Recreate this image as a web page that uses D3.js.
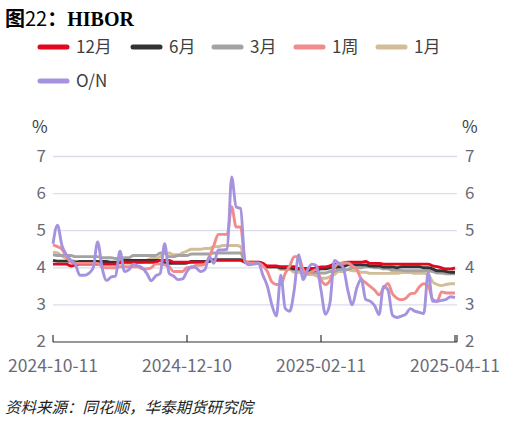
<!DOCTYPE html>
<html><head><meta charset="utf-8">
<script src="https://cdn.jsdelivr.net/npm/d3@7"></script>
<style>
html,body{margin:0;padding:0;background:#fff;}
svg{display:block;font-family:"Noto Sans CJK SC","Noto Sans",sans-serif;}
</style></head>
<body><svg id="c" width="519" height="426"></svg>
<script>
// categories: trading-day sample index 0..90, labelled ticks
const tickIdx = [0, 30, 60, 90];
const tickLabels = ["2024-10-11", "2024-12-10", "2025-02-11", "2025-04-11"];
const seriesNames = ["12月", "6月", "3月", "1周", "1月", "O/N"];
const colors = ["#e3071d", "#333333", "#a3a3a3", "#f28b8b", "#d2bd98", "#a593e0"];
const yTicks = [2, 3, 4, 5, 6, 7];

const m12 = [4.1,4.1,4.1,4.1,4.05,4.08,4.1,4.1,4.1,4.1,4.1,4.1,4.1,4.1,4.1,4.15,4.15,4.15,4.15,4.15,4.15,4.15,4.15,4.15,4.2,4.2,4.2,4.15,4.15,4.15,4.15,4.15,4.15,4.15,4.15,4.2,4.2,4.2,4.2,4.2,4.2,4.2,4.2,4.15,4.15,4.15,4.15,4.12,4.05,4.05,4.05,4.03,4.03,4.03,4.03,3.98,3.98,3.98,3.98,4.0,4.02,4.02,4.05,4.1,4.1,4.13,4.15,4.15,4.15,4.15,4.17,4.12,4.12,4.12,4.1,4.1,4.1,4.1,4.1,4.1,4.1,4.1,4.1,4.1,4.1,4.05,4.03,4.0,3.97,3.97,4.0];
const m6 = [4.2,4.18,4.18,4.18,4.18,4.15,4.17,4.17,4.17,4.17,4.17,4.17,4.17,4.15,4.15,4.15,4.2,4.2,4.2,4.2,4.2,4.2,4.2,4.2,4.2,4.12,4.12,4.12,4.12,4.12,4.13,4.17,4.17,4.17,4.17,4.17,4.22,4.22,4.22,4.22,4.22,4.22,4.22,4.15,4.14,4.14,4.14,4.1,4.03,4.03,4.03,4.0,4.0,4.0,3.97,3.97,3.97,3.92,3.92,3.94,3.97,3.97,4.0,4.0,4.03,4.03,4.08,4.08,4.08,4.08,4.08,4.05,4.05,4.05,4.02,4.02,4.02,4.0,4.03,4.03,4.03,4.03,4.03,4.0,4.0,3.97,3.92,3.92,3.9,3.88,3.88];
const m3 = [4.35,4.33,4.33,4.33,4.33,4.3,4.3,4.3,4.3,4.3,4.3,4.27,4.27,4.27,4.25,4.25,4.27,4.27,4.33,4.33,4.33,4.33,4.33,4.33,4.4,4.4,4.3,4.3,4.33,4.33,4.33,4.37,4.37,4.37,4.37,4.37,4.4,4.4,4.4,4.4,4.4,4.4,4.4,4.15,4.14,4.14,4.14,4.1,4.03,4.03,4.03,3.98,3.98,3.98,3.95,3.95,3.87,3.87,3.87,3.86,3.86,3.86,3.9,3.9,3.95,3.95,3.95,4.0,4.0,4.0,4.03,4.03,4.0,4.0,3.97,3.97,3.93,3.93,3.93,3.92,3.92,3.92,3.92,3.92,3.92,3.9,3.86,3.86,3.84,3.84,3.84];
const w1 = [4.62,4.57,4.5,4.3,4.15,4.12,4.12,4.12,4.12,4.12,4.12,4.03,4.0,4.0,4.0,4.03,4.03,4.03,4.03,4.03,3.97,3.97,4.0,4.1,4.1,4.08,4.03,3.9,3.9,3.9,4.0,4.0,4.07,4.07,4.1,4.3,4.6,4.9,4.9,4.9,5.65,5.1,5.1,4.2,4.13,4.13,4.13,4.05,3.9,3.62,3.55,3.55,3.85,4.05,4.3,4.3,3.95,3.85,3.9,3.95,3.68,3.55,3.65,4.0,4.12,4.13,4.13,4.05,3.95,3.7,3.6,3.5,3.4,3.27,3.45,3.58,3.3,3.18,3.14,3.18,3.3,3.32,3.48,3.57,3.52,3.15,3.1,3.35,3.32,3.32,3.32];
const m1 = [4.42,4.4,4.32,4.25,4.2,4.18,4.15,4.15,4.15,4.12,4.12,4.1,4.1,4.1,4.1,4.12,4.12,4.12,4.12,4.15,4.15,4.2,4.25,4.25,4.3,4.4,4.4,4.35,4.35,4.4,4.45,4.5,4.5,4.5,4.52,4.52,4.57,4.57,4.6,4.6,4.6,4.6,4.57,4.15,4.15,4.15,4.15,4.1,4.03,4.03,4.03,3.95,3.95,3.95,3.88,3.88,3.82,3.82,3.82,3.78,3.72,3.72,3.76,3.82,3.9,3.9,3.95,3.92,3.92,3.88,3.88,3.85,3.85,3.85,3.85,3.85,3.85,3.85,3.87,3.87,3.87,3.85,3.85,3.85,3.82,3.62,3.55,3.52,3.55,3.57,3.57];
const on = [4.65,5.15,4.6,4.35,4.2,4.1,3.8,3.8,3.85,4.0,4.7,4.0,3.66,3.75,3.78,4.45,3.9,3.95,4.1,4.05,4.0,3.85,3.65,3.78,3.85,4.65,3.85,3.78,3.68,3.7,3.9,4.03,4.0,3.9,3.95,4.3,4.12,4.48,4.48,4.5,6.45,5.64,5.6,4.15,4.08,4.1,4.12,3.8,3.5,3.0,2.7,3.8,2.9,2.83,3.4,4.35,3.68,3.95,4.1,4.05,3.4,2.75,3.05,4.2,4.12,4.0,3.4,3.0,3.45,3.7,3.15,3.1,2.98,2.74,3.5,3.4,2.72,2.66,2.7,2.75,2.9,2.83,2.8,2.77,3.87,3.1,3.1,3.12,3.15,3.22,3.2];

const seriesData = [m12, m6, m3, w1, m1, on];

const svg = d3.select("#c");
const x0 = 53, x1 = 455, axisEnd = 457;
const x = d3.scaleLinear().domain([0, 90]).range([x0, x1]);
const y = d3.scaleLinear().domain([2, 7]).range([342, 156.5]);

// title
const t = svg.append("text").attr("x", 5).attr("y", 26).attr("fill", "#000").attr("font-size", 20);
t.append("tspan").attr("font-weight", "bold").text("图");
t.append("tspan").text("22");
t.append("tspan").attr("font-weight", "bold").text("：");
t.append("tspan").attr("font-family", "'Liberation Serif','DejaVu Serif',serif").attr("font-weight", "bold").text("HIBOR");

// legend
const legPos = [[38, 47], [131, 47], [212, 47], [294, 47], [376, 47], [38, 81]];
seriesNames.forEach((n, i) => {
  const [lx, ly] = legPos[i];
  svg.append("line").attr("x1", lx + 2).attr("x2", lx + 29).attr("y1", ly).attr("y2", ly)
    .attr("stroke", colors[i]).attr("stroke-width", 5).attr("stroke-linecap", "round");
  svg.append("text").attr("x", lx + 38).attr("y", ly + 6).attr("font-size", 17).attr("fill", "#404040").text(n);
});

// gridlines
svg.append("g").selectAll("line").data(yTicks.filter(v => v > 2)).join("line")
  .attr("x1", x0).attr("x2", axisEnd).attr("y1", d => y(d)).attr("y2", d => y(d))
  .attr("stroke", "#dadded").attr("stroke-width", 1.3);

// y labels
const lab = "#6b6b78";
svg.append("g").selectAll("text").data(yTicks).join("text")
  .attr("x", 46).attr("y", d => y(d) + 5).attr("text-anchor", "end").attr("font-size", 17).attr("fill", lab).text(d => d);
svg.append("g").selectAll("text").data(yTicks).join("text")
  .attr("x", 465).attr("y", d => y(d) + 5).attr("text-anchor", "start").attr("font-size", 17).attr("fill", lab).text(d => d);
svg.append("text").attr("x", 32).attr("y", 133).attr("font-size", 17).attr("fill", "#404040").text("%");
svg.append("text").attr("x", 462).attr("y", 133).attr("font-size", 17).attr("fill", "#404040").text("%");

// lines
const line = d3.line().x((d, i) => x(i)).y(d => y(d)).curve(d3.curveMonotoneX);
const order = [4, 2, 1, 0, 3, 5];
order.forEach(i => {
  svg.append("path").attr("d", line(seriesData[i])).attr("fill", "none")
    .attr("stroke", colors[i]).attr("stroke-width", 2.9).attr("stroke-linejoin", "round");
});

// x axis
const ax = svg.append("g");
ax.append("line").attr("x1", x0).attr("x2", axisEnd).attr("y1", 342).attr("y2", 342).attr("stroke", "#333").attr("stroke-width", 1.2);
ax.selectAll("line.tk").data(tickIdx.map(i => x(i)).concat([axisEnd])).join("line").attr("class", "tk")
  .attr("x1", d => d).attr("x2", d => d).attr("y1", 342).attr("y2", 335).attr("stroke", "#333").attr("stroke-width", 1.2);
ax.selectAll("text").data(tickIdx).join("text")
  .attr("x", d => x(d)).attr("y", 371.5).attr("text-anchor", "middle").attr("font-size", 17.5).attr("fill", lab)
  .text((d, i) => tickLabels[i]);

// source
svg.append("text").attr("x", 5).attr("y", 413).attr("font-size", 15.5).attr("font-style", "italic").attr("fill", "#222")
  .text("资料来源：同花顺，华泰期货研究院");
</script></body></html>
